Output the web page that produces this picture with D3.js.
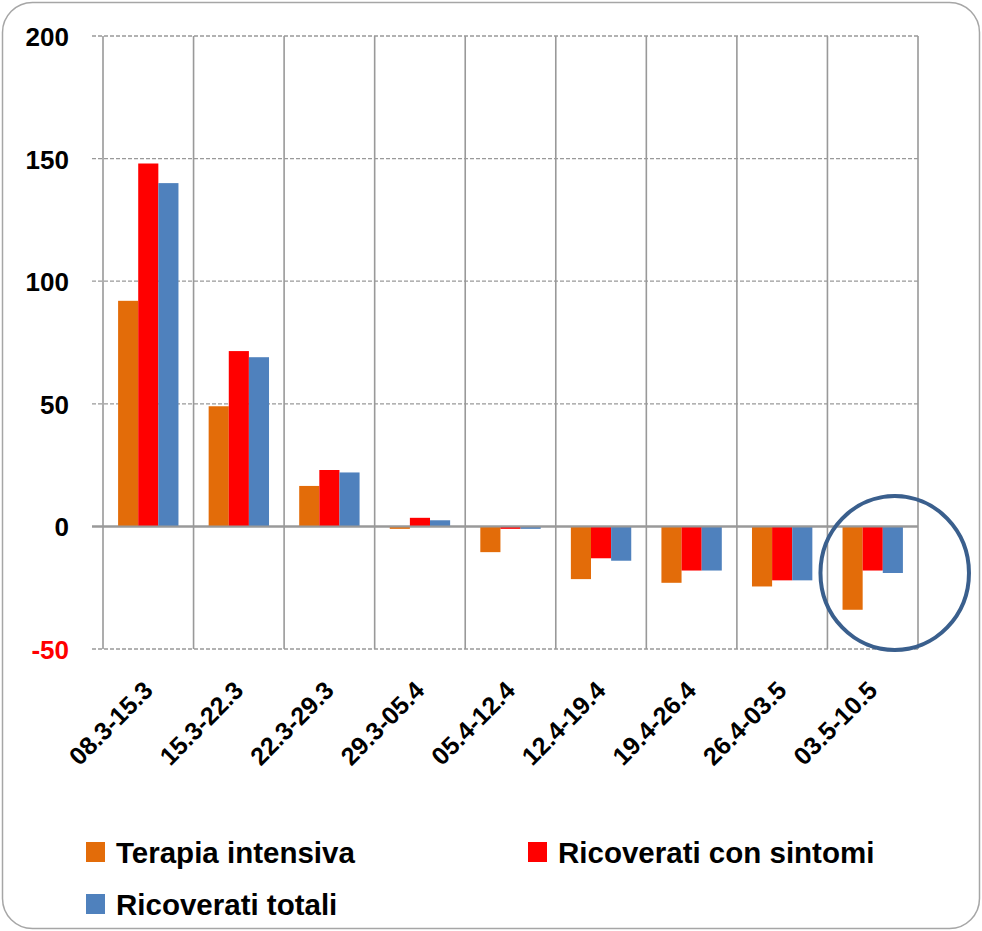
<!DOCTYPE html>
<html>
<head>
<meta charset="utf-8">
<script src="https://cdn.jsdelivr.net/npm/d3@7"></script>
<style>
  html, body { margin: 0; padding: 0; background: #fff; }
  text { font-family: "Liberation Sans", Arial, sans-serif; font-weight: bold; }
</style>
</head>
<body>
<div id="chart"></div>
<script>
var categories = ["08.3-15.3", "15.3-22.3", "22.3-29.3", "29.3-05.4", "05.4-12.4",
                  "12.4-19.4", "19.4-26.4", "26.4-03.5", "03.5-10.5"]

var terapiaIntensiva = [92, 49, 16.5, -1, -10.5, -21.5, -23, -24.5, -34]
var ricoveratiSintomi = [148, 71.5, 23, 3.5, -1, -13, -18, -22, -18]
var ricoveratiTotali = [140, 69, 22, 2.5, -1, -14, -18, -22, -19]

var seriesNames = ["Terapia intensiva", "Ricoverati con sintomi", "Ricoverati totali"]
var seriesColors = ["#E36C09", "#FF0000", "#4F81BD"]
var yTicks = [-50, 0, 50, 100, 150, 200]

var width = 982
var height = 931

var svg = d3.select("#chart").append("svg")
  .attr("width", width)
  .attr("height", height)

// outer frame
svg.append("rect")
  .attr("x", 2.5).attr("y", 2.5)
  .attr("width", width - 5).attr("height", height - 5)
  .attr("rx", 30).attr("ry", 30)
  .attr("fill", "#fff")
  .attr("stroke", "#a6a6a6")
  .attr("stroke-width", 1.5)

var x = d3.scaleBand().domain(categories).range([103, 918]).paddingInner(0).paddingOuter(0)
var y = d3.scaleLinear().domain([-50, 200]).range([649, 36])

var xInner = d3.scaleBand().domain(d3.range(3))
  .range([x.bandwidth() / 6, x.bandwidth() * 5 / 6])

// horizontal grid (dashed), zero line solid
svg.append("g").selectAll("line")
  .data(yTicks)
  .join("line")
  .attr("x1", 92).attr("x2", 918)
  .attr("y1", d => y(d)).attr("y2", d => y(d))
  .attr("stroke", "#999")
  .attr("stroke-width", d => d === 0 ? 2 : 1.3)
  .attr("stroke-dasharray", d => d === 0 ? null : "4,2")

// vertical category lines
var bounds = categories.map(c => x(c)).concat([x(categories[categories.length - 1]) + x.bandwidth()])
svg.append("g").selectAll("line")
  .data(bounds)
  .join("line")
  .attr("x1", d => d).attr("x2", d => d)
  .attr("y1", y(200)).attr("y2", y(-50))
  .attr("stroke", "#999")
  .attr("stroke-width", 1.6)

// bars
var seriesData = [terapiaIntensiva, ricoveratiSintomi, ricoveratiTotali]
seriesData.forEach(function(values, s) {
  svg.append("g").selectAll("rect")
    .data(values)
    .join("rect")
    .attr("x", (d, i) => x(categories[i]) + xInner(s))
    .attr("width", xInner.bandwidth())
    .attr("y", d => y(Math.max(0, d)))
    .attr("height", d => Math.abs(y(d) - y(0)))
    .attr("fill", seriesColors[s])
})

// redraw zero line on top
svg.append("line")
  .attr("x1", 92).attr("x2", 918)
  .attr("y1", y(0)).attr("y2", y(0))
  .attr("stroke", "#999")
  .attr("stroke-width", 2)

// y labels
svg.append("g").selectAll("text")
  .data(yTicks)
  .join("text")
  .attr("x", 69)
  .attr("y", d => y(d) + 10)
  .attr("text-anchor", "end")
  .attr("font-size", 26)
  .attr("fill", d => d < 0 ? "#FF0000" : "#000")
  .text(d => d)

// x labels
svg.append("g").selectAll("text")
  .data(categories)
  .join("text")
  .attr("transform", d => "translate(" + (x(d) + x.bandwidth() / 2 + 6) + "," + 692 + ") rotate(-45)")
  .attr("text-anchor", "end")
  .attr("font-size", 25)
  .attr("fill", "#000")
  .text(d => d)

// highlight circle around the last week
var last = categories[categories.length - 1]
svg.append("ellipse")
  .attr("cx", x(last) + x.bandwidth() / 2 + 22)
  .attr("cy", y(-19))
  .attr("rx", x.bandwidth() * 0.82)
  .attr("ry", y(-50) - y(-19) + 1)
  .attr("fill", "none")
  .attr("stroke", "#3A5F8D")
  .attr("stroke-width", 4)

// legend
var legendPos = [[86, 863], [528, 863], [86, 915]]
var legend = svg.append("g").selectAll("g")
  .data(seriesNames)
  .join("g")
  .attr("transform", (d, i) => "translate(" + legendPos[i][0] + "," + legendPos[i][1] + ")")

legend.append("rect")
  .attr("x", 0).attr("y", -21)
  .attr("width", 19).attr("height", 20)
  .attr("fill", (d, i) => seriesColors[i])

legend.append("text")
  .attr("x", 30).attr("y", 0)
  .attr("font-size", 29.5)
  .attr("fill", "#000")
  .text(d => d)
</script>
</body>
</html>
